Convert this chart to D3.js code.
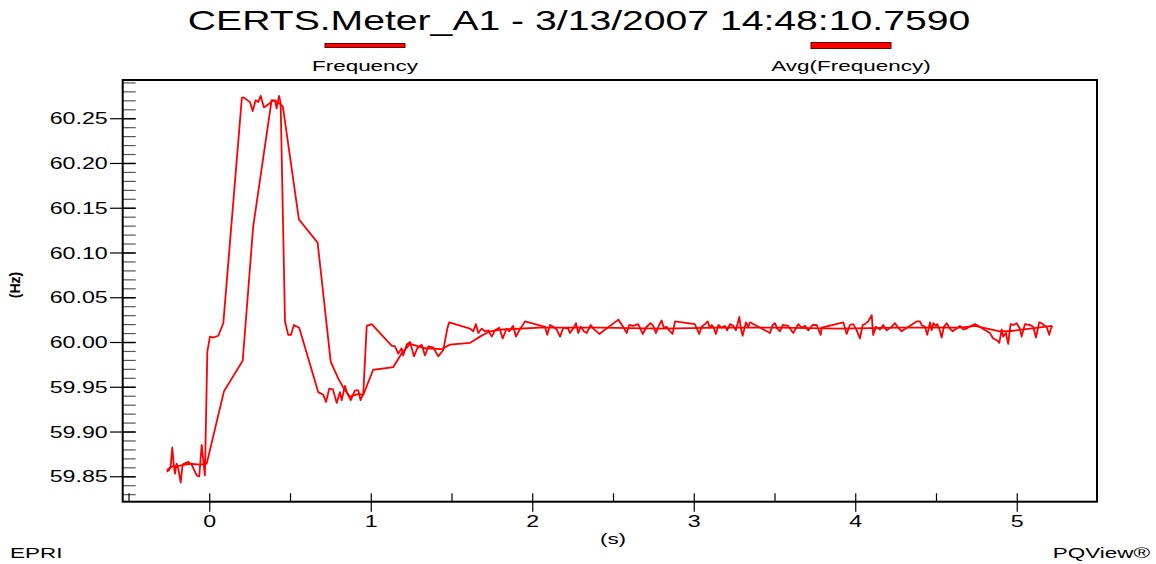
<!DOCTYPE html>
<html><head><meta charset="utf-8">
<script src="https://cdn.jsdelivr.net/npm/d3@7"></script>
<style>body{margin:0;background:#fff}svg{display:block}text{font-family:"Liberation Sans",Arial,sans-serif}</style>
</head><body>
<svg id="c" width="1156" height="564"></svg>
<script>
// ---- data ----
const freqT = [-0.264,-0.248,-0.239,-0.229,-0.219,-0.212,-0.202,-0.192,-0.177,-0.165,-0.144,-0.130,-0.109,-0.078,-0.062,-0.047,-0.037,-0.027,-0.012,0.004,0.023,0.056,0.087,0.202,0.215,0.252,0.269,0.287,0.303,0.318,0.339,0.376,0.393,0.407,0.417,0.432,0.442,0.469,0.489,0.506,0.524,0.557,0.675,0.706,0.723,0.743,0.766,0.789,0.809,0.820,0.840,0.854,0.876,0.902,0.923,0.937,0.954,0.975,1.006,1.129,1.150,1.170,1.191,1.201,1.222,1.243,1.268,1.288,1.315,1.336,1.356,1.387,1.418,1.449,1.474,1.486,1.614,1.635,1.651,1.666,1.687,1.707,1.728,1.749,1.769,1.796,1.817,1.841,1.858,1.882,1.899,1.920,1.955,2.079,2.093,2.110,2.130,2.151,2.172,2.192,2.223,2.233,2.254,2.271,2.285,2.300,2.320,2.337,2.362,2.378,2.415,2.533,2.563,2.585,2.601,2.625,2.656,2.684,2.708,2.733,2.749,2.766,2.786,2.801,2.815,2.832,2.848,2.869,2.884,3.007,3.034,3.049,3.069,3.086,3.100,3.111,3.121,3.137,3.152,3.173,3.193,3.207,3.224,3.245,3.261,3.282,3.292,3.303,3.323,3.338,3.348,3.472,3.489,3.503,3.517,3.534,3.551,3.585,3.616,3.647,3.668,3.689,3.709,3.736,3.761,3.786,3.792,3.926,3.947,3.967,3.988,4.009,4.029,4.046,4.060,4.080,4.102,4.111,4.128,4.153,4.173,4.194,4.225,4.246,4.266,4.287,4.380,4.401,4.411,4.432,4.446,4.463,4.473,4.483,4.500,4.508,4.520,4.535,4.549,4.566,4.586,4.603,4.628,4.648,4.669,4.690,4.706,4.721,4.741,4.762,4.834,4.854,4.876,4.892,4.907,4.916,4.933,4.947,4.962,4.978,4.999,5.020,5.030,5.051,5.082,5.102,5.119,5.139,5.154,5.168,5.185,5.201,5.210,5.220];
const freqV = [59.855,59.857,59.861,59.882,59.861,59.853,59.864,59.859,59.843,59.863,59.865,59.866,59.863,59.851,59.850,59.885,59.868,59.851,59.989,60.006,60.005,60.007,60.021,60.273,60.273,60.268,60.258,60.270,60.268,60.275,60.262,60.267,60.270,60.270,60.261,60.275,60.267,60.023,60.008,60.008,60.019,60.016,59.944,59.941,59.933,59.948,59.947,59.932,59.944,59.935,59.951,59.943,59.935,59.946,59.946,59.935,59.943,60.018,60.020,59.996,59.995,59.987,59.993,59.985,59.997,60.000,59.984,59.993,59.997,59.985,59.995,59.994,59.984,59.991,60.015,60.022,60.015,60.012,60.020,60.010,60.015,60.012,60.013,60.006,60.013,60.016,60.004,60.015,60.012,60.018,60.006,60.013,60.023,60.017,60.008,60.019,60.017,60.014,60.006,60.016,60.015,60.010,60.015,60.021,60.010,60.017,60.012,60.010,60.019,60.015,60.009,60.025,60.017,60.010,60.019,60.018,60.020,60.009,60.017,60.021,60.018,60.010,60.019,60.024,60.016,60.017,60.013,60.009,60.023,60.020,60.009,60.017,60.020,60.023,60.016,60.019,60.017,60.009,60.019,60.016,60.018,60.013,60.020,60.018,60.013,60.028,60.015,60.007,60.022,60.017,60.022,60.010,60.019,60.021,60.015,60.012,60.019,60.018,60.010,60.020,60.016,60.018,60.013,60.019,60.019,60.008,60.016,60.022,60.009,60.019,60.020,60.013,60.004,60.019,60.020,60.023,60.030,60.008,60.017,60.014,60.019,60.013,60.017,60.021,60.016,60.012,60.023,60.023,60.019,60.017,60.008,60.022,60.013,60.021,60.018,60.020,60.015,60.005,60.017,60.021,60.015,60.012,60.015,60.018,60.014,60.015,60.017,60.018,60.020,60.018,60.010,60.004,60.002,59.999,60.014,60.006,60.010,59.998,60.020,60.019,60.021,60.015,60.006,60.020,60.019,60.017,60.005,60.022,60.021,60.019,60.017,60.008,60.014,60.018];

const avgT = [-0.262,-0.231,-0.181,-0.120,-0.058,-0.016,0.091,0.207,0.272,0.386,0.413,0.438,0.456,0.555,0.671,0.752,0.799,0.840,0.871,0.923,0.954,1.015,1.139,1.191,1.243,1.336,1.439,1.490,1.614,1.676,1.738,1.819,2.048,2.419,2.791,3.164,3.533,3.905,4.277,4.648,4.741,4.895,4.957,5.082,5.220];
const avgV = [59.857,59.861,59.862,59.864,59.863,59.864,59.945,59.979,60.129,60.270,60.269,60.266,60.263,60.137,60.111,59.978,59.959,59.946,59.939,59.942,59.941,59.969,59.972,59.987,59.998,59.993,59.992,59.997,59.999,60.006,60.012,60.014,60.016,60.016,60.015,60.016,60.016,60.015,60.016,60.016,60.018,60.012,60.012,60.015,60.018];

const xTickLabels = ["0","1","2","3","4","5"];
const yTickLabels = ["59.85","59.90","59.95","60.00","60.05","60.10","60.15","60.20","60.25"];
const seriesNames = ["Frequency","Avg(Frequency)"];
const titleText = "CERTS.Meter_A1 - 3/13/2007 14:48:10.7590";

// ---- layout ----
const L = 122.7, R = 1097, T = 80, B = 501.7;
const SX = 1.45; // horizontal text stretch
const svg = d3.select("#c");
const x = d3.scaleLinear().domain([-0.536, 5.497]).range([L, R]);
const y = d3.scaleLinear().domain([59.8216, 60.2927]).range([B, T]);

function stretchText(sel, px, py, str, size, anchor, weight, sx) {
  const g = sel.append("g").attr("transform", `translate(${px},${py}) scale(${sx||SX},1)`);
  return g.append("text").attr("text-anchor", anchor).attr("font-size", size)
    .attr("font-weight", weight || "normal").attr("fill", "#000").text(str);
}

// title
stretchText(svg, 579, 30, titleText, 27, "middle");

// legend
const legX = [365, 851];
const legH = [4, 6];
seriesNames.forEach((n, i) => {
  svg.append("rect").attr("x", legX[i] - 40).attr("y", 45.5 - legH[i] / 2).attr("width", 80).attr("height", legH[i])
    .attr("fill", "#ff0000").attr("stroke", "#600").attr("stroke-width", 1);
  stretchText(svg, legX[i], 71, n, 15.5, "middle");
});

// y ticks
const yMinor = d3.range(59.83, 60.2951, 0.01);
const yMajor = yTickLabels.map(Number);
svg.append("g").attr("transform", `translate(${L},0)`)
  .call(d3.axisRight(y).tickValues(yMinor).tickSize(13).tickFormat(""))
  .call(g => g.select(".domain").remove())
  .call(g => g.selectAll("line").attr("stroke", "#555").attr("stroke-width", 1.2));
const yAx = svg.append("g").attr("transform", `translate(${L},0)`)
  .call(d3.axisLeft(y).tickValues(yMajor).tickSize(12.7).tickFormat((d, i) => yTickLabels[i]))
  .call(g => g.select(".domain").remove());
yAx.selectAll("line").attr("stroke", "#000").attr("x2", -12.7).attr("stroke-width", 1.2);
yAx.selectAll(".tick").append("line").attr("x1", 0).attr("x2", 13).attr("stroke", "#000").attr("stroke-width", 1.4);
yAx.selectAll("text").attr("x", 0).attr("dy", null).attr("y", 5.5).attr("font-size", 16).attr("fill", "#000")
  .attr("font-family", '"Liberation Sans",Arial,sans-serif')
  .attr("transform", `translate(-15,0) scale(${SX},1)`);

// x ticks
const xHalf = d3.range(-0.5, 5.01, 0.5);
svg.append("g").attr("transform", `translate(0,${B})`)
  .call(d3.axisTop(x).tickValues(xHalf).tickSize(8.5).tickFormat(""))
  .call(g => g.select(".domain").remove())
  .call(g => g.selectAll("line").attr("stroke", "#000").attr("stroke-width", 1.2));
const xAx = svg.append("g").attr("transform", `translate(0,${B})`)
  .call(d3.axisBottom(x).tickValues(xTickLabels.map(Number)).tickSize(10).tickFormat((d, i) => xTickLabels[i]))
  .call(g => g.select(".domain").remove());
xAx.selectAll("line").attr("stroke", "#000").attr("stroke-width", 1.2);
xAx.selectAll("text").attr("dy", null).attr("y", 0).attr("font-size", 16).attr("fill", "#000")
  .attr("font-family", '"Liberation Sans",Arial,sans-serif')
  .attr("transform", `translate(0,25) scale(${SX},1)`);

// frame
svg.append("rect").attr("x", L).attr("y", T).attr("width", R - L).attr("height", B - T)
  .attr("fill", "none").attr("stroke", "#000").attr("stroke-width", 2);

// axis titles
stretchText(svg, 613, 544, "(s)", 15.5, "middle");
svg.append("text").attr("transform", "translate(20,285) rotate(-90)").attr("text-anchor", "middle")
  .attr("font-size", 14).attr("font-weight", "bold").text("(Hz)");
stretchText(svg, 10, 558, "EPRI", 15.5, "start");
stretchText(svg, 1150, 558, "PQView®", 15.5, "end");

// series
const line = d3.line().x(d => x(d[0])).y(d => y(d[1]));
const avgData = avgT.map((t, i) => [t, avgV[i]]);
const freqData = freqT.map((t, i) => [t, freqV[i]]);
svg.append("path").datum(avgData).attr("d", line).attr("fill", "none").attr("stroke", "#ff0000").attr("stroke-width", 1.8);
svg.append("path").datum(freqData).attr("d", line).attr("fill", "none").attr("stroke", "#ff0000").attr("stroke-width", 1.8).attr("stroke-linejoin", "round");
</script>
</body></html>
